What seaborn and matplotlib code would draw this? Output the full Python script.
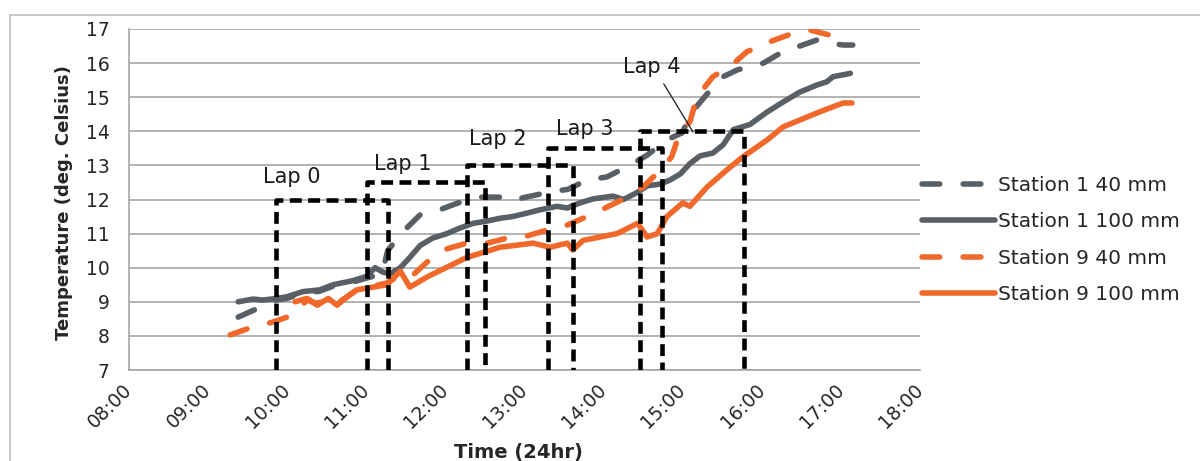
import matplotlib
matplotlib.use("Agg")
import matplotlib.pyplot as plt
import numpy as np
import pandas as pd
import seaborn as sns
from matplotlib.lines import Line2D
from matplotlib.patches import Rectangle

# ---------------- data ----------------
series_names = ["Station 1 40 mm", "Station 1 100 mm", "Station 9 40 mm", "Station 9 100 mm"]

s1_40_hours = [9.38, 9.62, 9.87, 10.0, 10.2, 10.41, 10.58, 10.83, 11.01, 11.2, 11.27, 11.46, 11.68,
               11.93, 12.22, 12.44, 12.75, 12.88, 12.98, 13.28, 13.55, 13.79, 14.04, 14.33, 14.55,
               14.80, 14.99, 15.13, 15.31, 15.51, 15.69, 16.02, 16.24, 16.48, 16.70, 16.80, 17.03,
               17.15]
s1_40_temps = [8.55, 8.8, 9.06, 9.1, 9.26, 9.31, 9.46, 9.58, 9.7, 9.82, 10.5, 11.05, 11.55,
               11.7, 11.95, 12.07, 12.07, 11.97, 12.05, 12.2, 12.3, 12.57, 12.66, 13.0, 13.3,
               13.75, 13.95, 14.6, 15.1, 15.6, 15.8, 16.0, 16.3, 16.5, 16.68, 16.6, 16.53,
               16.53]

s1_100_hours = [9.38, 9.57, 9.69, 9.87, 10.0, 10.2, 10.41, 10.58, 10.83, 11.01, 11.11, 11.21, 11.30,
                11.43, 11.55, 11.68, 11.84, 12.02, 12.18, 12.35, 12.53, 12.69, 12.85, 13.03, 13.20,
                13.41, 13.54, 13.70, 13.87, 14.12, 14.25, 14.42, 14.55, 14.71, 14.84, 14.97, 15.09,
                15.22, 15.38, 15.51, 15.64, 15.85, 16.07, 16.27, 16.48, 16.70, 16.82, 16.90, 17.12]
s1_100_temps = [9.0, 9.08, 9.05, 9.1, 9.15, 9.3, 9.35, 9.5, 9.62, 9.75, 10.0, 9.87, 9.82,
                10.0, 10.3, 10.65, 10.87, 11.0, 11.16, 11.3, 11.37, 11.45, 11.5, 11.6, 11.7,
                11.8, 11.75, 11.9, 12.02, 12.1, 12.0, 12.2, 12.4, 12.45, 12.57, 12.75, 13.05,
                13.28, 13.36, 13.6, 14.05, 14.2, 14.57, 14.86, 15.15, 15.36, 15.45, 15.6, 15.7]

s9_40_hours = [9.28, 9.56, 9.81, 10.06, 10.25, 10.38, 10.52, 10.63, 10.76, 10.88, 11.01, 11.26,
               11.40, 11.55, 11.77, 11.97, 12.27, 12.53, 12.78, 13.03, 13.28, 13.54, 13.79, 14.02,
               14.30, 14.50, 14.69, 14.86, 14.97, 15.09, 15.18, 15.38, 15.62, 15.81, 16.07, 16.33,
               16.61, 16.86]
s9_40_temps = [8.03, 8.26, 8.4, 8.6, 9.05, 8.95, 9.1, 8.95, 9.15, 9.35, 9.42, 9.55,
               9.75, 9.7, 10.17, 10.52, 10.72, 10.72, 10.87, 10.93, 11.1, 11.25, 11.5, 11.75,
               12.07, 12.37, 12.8, 13.25, 14.0, 14.27, 15.0, 15.6, 15.94, 16.33, 16.6, 16.82,
               16.97, 16.82]

s9_100_hours = [10.10, 10.25, 10.38, 10.52, 10.63, 10.76, 10.88, 11.01, 11.26, 11.43, 11.55, 11.77,
                12.27, 12.69, 13.11, 13.32, 13.54, 13.61, 13.74, 14.17, 14.43, 14.55, 14.68, 14.80,
                15.00, 15.09, 15.31, 15.56, 15.76, 16.07, 16.27, 16.48, 16.70, 16.90, 17.03, 17.14]
s9_100_temps = [9.0, 9.1, 8.9, 9.1, 8.9, 9.15, 9.35, 9.4, 9.5, 9.9, 9.43, 9.73,
                10.3, 10.6, 10.72, 10.6, 10.72, 10.52, 10.8, 11.0, 11.3, 10.9, 11.0, 11.5,
                11.9, 11.8, 12.37, 12.87, 13.25, 13.75, 14.13, 14.33, 14.54, 14.72, 14.83, 14.83]

lap_names = ["Lap 0", "Lap 1", "Lap 2", "Lap 3", "Lap 4"]
lap_start = [9.86, 11.01, 12.27, 13.30, 14.46]
lap_end = [11.27, 12.50, 13.61, 14.74, 15.78]
lap_top = [12.0, 12.5, 13.0, 13.5, 14.0]

# label anchor positions (annotation placement)
lap_label_x = [9.69, 11.10, 12.30, 13.40, 14.25]
lap_label_y = [12.48, 12.87, 13.60, 13.89, 15.71]
lap4_pointer = (15.13, 13.98)

x_ticks = [8, 9, 10, 11, 12, 13, 14, 15, 16, 17, 18]
x_tick_labels = ["08:00", "09:00", "10:00", "11:00", "12:00", "13:00", "14:00",
                 "15:00", "16:00", "17:00", "18:00"]
y_ticks = [7, 8, 9, 10, 11, 12, 13, 14, 15, 16, 17]

# ---------------- build table ----------------
frames = []
for name, hrs, tmp in zip(series_names,
                          [s1_40_hours, s1_100_hours, s9_40_hours, s9_100_hours],
                          [s1_40_temps, s1_100_temps, s9_40_temps, s9_100_temps]):
    frames.append(pd.DataFrame({"hour": hrs, "temp": tmp, "series": name}))
df = pd.concat(frames, ignore_index=True)

gray = "#596065"
orange = "#f0692b"
palette = {series_names[0]: gray, series_names[1]: gray,
           series_names[2]: orange, series_names[3]: orange}
dash_pat = (3.2, 4.2)
dashes = {series_names[0]: dash_pat, series_names[1]: "",
          series_names[2]: dash_pat, series_names[3]: ""}

sns.set_theme(style="white")
plt.rcParams["font.family"] = ["DejaVu Sans"]

fig = plt.figure(figsize=(12, 4.61), dpi=100)
ax = fig.add_axes([129 / 1200, 1 - 370 / 461, (920 - 129) / 1200, (370 - 29) / 461])

LW = 4.0
sns.lineplot(data=df, x="hour", y="temp", hue="series", style="series",
             hue_order=series_names, style_order=series_names,
             palette=palette, dashes=dashes, sort=False, estimator=None,
             lw=LW, legend=False, ax=ax, dash_capstyle="round",
             solid_capstyle="round", solid_joinstyle="round")

ax.set_xlim(8, 18)
ax.set_ylim(7, 17)
ax.set_xticks(x_ticks)
ax.set_xticklabels(x_tick_labels, rotation=45, ha="right", va="center",
                   rotation_mode="anchor")
ax.set_yticks(y_ticks)

grid_c = "#a6a6a6"
ax.yaxis.grid(True, color=grid_c, lw=1.2)
ax.xaxis.grid(False)
ax.set_axisbelow(True)
for s in ["top", "right"]:
    ax.spines[s].set_visible(False)
for s in ["left", "bottom"]:
    ax.spines[s].set_color(grid_c)
    ax.spines[s].set_linewidth(1.2)
ax.tick_params(axis="both", direction="out", length=6, width=1.2, color=grid_c,
               labelsize=13.5, labelcolor="#262626")
ax.tick_params(axis="y", pad=8)
ax.tick_params(axis="x", pad=6)

ax.set_xlabel("Time (24hr)", fontsize=14, fontweight="bold", color="#262626")
ax.set_ylabel("Temperature (deg. Celsius)", fontsize=13, fontweight="bold", color="#262626")
ax.xaxis.set_label_coords(0.492, -0.214)
ax.yaxis.set_label_coords(-0.071, 0.49)

# lap boxes
for s, e, t in zip(lap_start, lap_end, lap_top):
    ax.plot([s, s, e, e], [7, t, t, 7], color="black", lw=3.3, ls=(0, (2.6, 1.4)),
            zorder=5, solid_joinstyle="miter")

for i, (name, lx, ly) in enumerate(zip(lap_names, lap_label_x, lap_label_y)):
    if i == 4:
        ax.annotate(name, xy=lap4_pointer, xytext=(lx, ly), fontsize=15, color="#1a1a1a",
                    ha="left", va="baseline",
                    arrowprops=dict(arrowstyle="-", color="#1a1a1a", lw=0.9,
                                    relpos=(0.63, 0.0), shrinkA=3, shrinkB=0))
    else:
        ax.text(lx, ly, name, fontsize=15, color="#1a1a1a", ha="left", va="baseline", zorder=6)

# legend
handles = [Line2D([], [], color=palette[n], lw=LW, dash_capstyle="round",
                  ls=(0, dashes[n]) if dashes[n] else "-") for n in series_names]
fig.legend(handles, series_names, loc="center left",
           bbox_to_anchor=(922 / 1200, 1 - 240 / 461), frameon=False, fontsize=14.5,
           handlelength=3.6, handletextpad=0.15, labelspacing=0.85,
           borderaxespad=0, borderpad=0, labelcolor="#262626")

# outer chart frame
fig.patches.append(Rectangle((10 / 1200, -0.1), 1.2, (461 - 15) / 461 + 0.1,
                             transform=fig.transFigure, fill=False,
                             edgecolor="#bfbfbf", lw=1.2))

fig.savefig("out.png", dpi=100)
